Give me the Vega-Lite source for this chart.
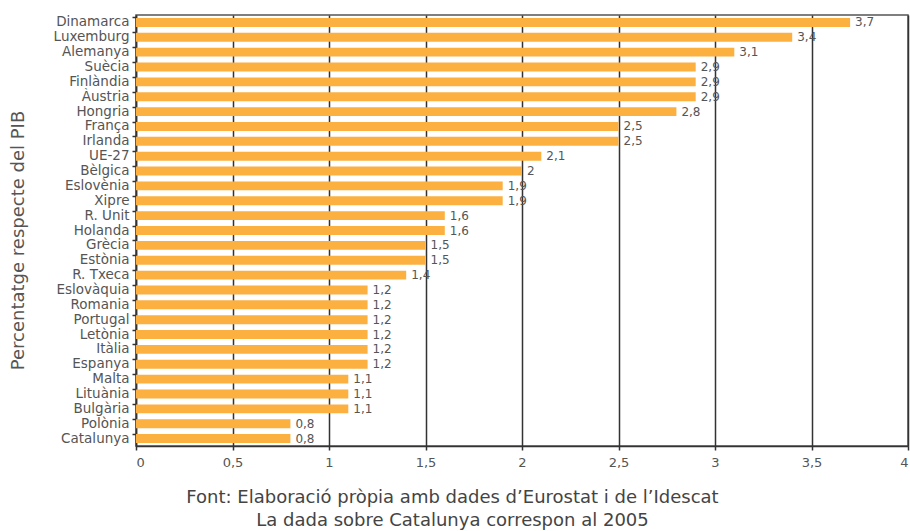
{
  "$schema": "https://vega.github.io/schema/vega-lite/v6.json",
  "width": 772,
  "height": 431,
  "autosize": {"type": "none"},
  "padding": {"left": 136, "top": 15, "right": 2, "bottom": 85},
  "background": "white",
  "config": {
    "font": "DejaVu Sans",
    "locale": {"number": {"decimal": ",", "thousands": ".", "grouping": [3], "currency": ["", " €"]}},
    "view": {"stroke": "#555555", "strokeWidth": 1.5}
  },
  "data": {
    "values": [
      {"pais": "Dinamarca", "valor": 3.7},
      {"pais": "Luxemburg", "valor": 3.4},
      {"pais": "Alemanya", "valor": 3.1},
      {"pais": "Suècia", "valor": 2.9},
      {"pais": "Finlàndia", "valor": 2.9},
      {"pais": "Àustria", "valor": 2.9},
      {"pais": "Hongria", "valor": 2.8},
      {"pais": "França", "valor": 2.5},
      {"pais": "Irlanda", "valor": 2.5},
      {"pais": "UE-27", "valor": 2.1},
      {"pais": "Bèlgica", "valor": 2.0},
      {"pais": "Eslovènia", "valor": 1.9},
      {"pais": "Xipre", "valor": 1.9},
      {"pais": "R. Unit", "valor": 1.6},
      {"pais": "Holanda", "valor": 1.6},
      {"pais": "Grècia", "valor": 1.5},
      {"pais": "Estònia", "valor": 1.5},
      {"pais": "R. Txeca", "valor": 1.4},
      {"pais": "Eslovàquia", "valor": 1.2},
      {"pais": "Romania", "valor": 1.2},
      {"pais": "Portugal", "valor": 1.2},
      {"pais": "Letònia", "valor": 1.2},
      {"pais": "Itàlia", "valor": 1.2},
      {"pais": "Espanya", "valor": 1.2},
      {"pais": "Malta", "valor": 1.1},
      {"pais": "Lituània", "valor": 1.1},
      {"pais": "Bulgària", "valor": 1.1},
      {"pais": "Polònia", "valor": 0.8},
      {"pais": "Catalunya", "valor": 0.8}
    ]
  },
  "encoding": {
    "y": {
      "field": "pais",
      "type": "nominal",
      "sort": null,
      "scale": {"paddingInner": 0.4, "paddingOuter": 0.2},
      "axis": {
        "title": "Percentatge respecte del PIB",
        "titleFontSize": 18,
        "titleFontWeight": "normal",
        "titleColor": "#555555",
        "titleX": -118,
        "titleY": 225,
        "titleAngle": -90,
        "titleBaseline": "middle",
        "titleAlign": "center",
        "labelFontSize": 13.5,
        "labelColor": "#555555",
        "labelPadding": 3,
        "bandPosition": 0,
        "tickSize": 4,
        "tickColor": "#333333",
        "tickWidth": 1.5,
        "domainColor": "#333333",
        "domainWidth": 1.5,
        "grid": false
      }
    },
    "x": {
      "field": "valor",
      "type": "quantitative",
      "scale": {"domain": [0, 4], "nice": false},
      "axis": {
        "values": [0, 0.5, 1, 1.5, 2, 2.5, 3, 3.5, 4],
        "format": "~g",
        "title": ["Font: Elaboració pròpia amb dades d’Eurostat i de l’Idescat", "La dada sobre Catalunya correspon al 2005"],
        "titleFontSize": 18,
        "titleFontWeight": "normal",
        "titleColor": "#444444",
        "titleX": 316,
        "titleY": 42,
        "titleBaseline": "top",
        "titleAlign": "center",
        "titleLineHeight": 23,
        "labelFontSize": 13,
        "labelColor": "#555555",
        "labelPadding": 6,
        "tickSize": 4,
        "tickColor": "#333333",
        "tickWidth": 1.5,
        "domainColor": "#333333",
        "domainWidth": 1.5,
        "grid": true,
        "gridColor": "#333333",
        "gridWidth": 1.5,
        "gridOpacity": 1
      }
    }
  },
  "layer": [
    {"mark": {"type": "bar", "color": "#FBB040"}},
    {
      "mark": {"type": "text", "align": "left", "baseline": "middle", "dx": 5, "fontSize": 12, "color": "#555555"},
      "encoding": {"text": {"field": "valor", "type": "quantitative", "format": ".1~f"}}
    }
  ]
}
